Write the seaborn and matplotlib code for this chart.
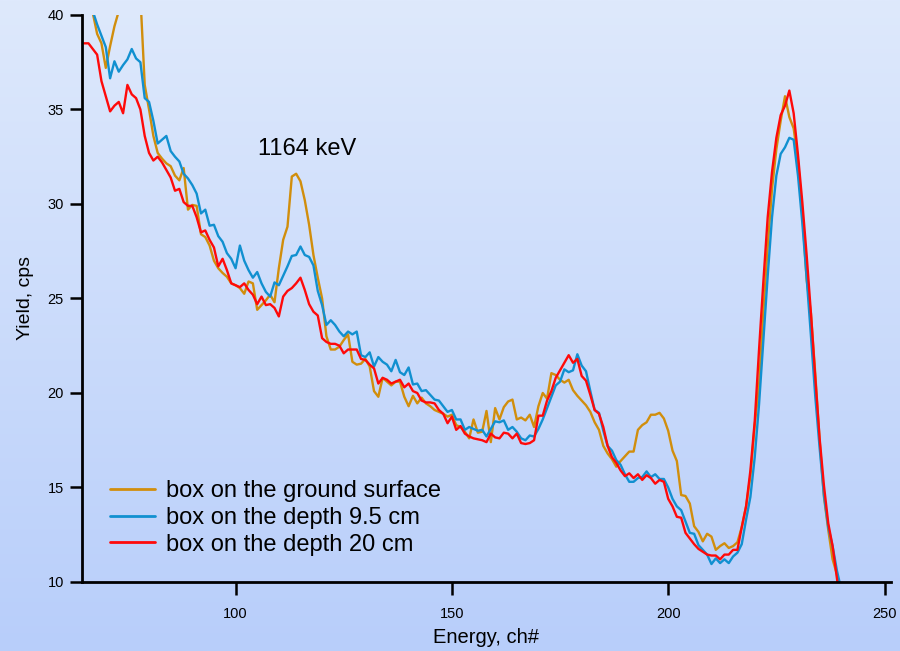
import numpy as np
import pandas as pd
import matplotlib
matplotlib.use("Agg")
import matplotlib.pyplot as plt
import seaborn as sns
from matplotlib.colors import LinearSegmentedColormap

channels = list(range(65, 241))

ground = [42.5, 41.2, 40.1, 39.0, 38.5, 37.2, 38.35, 39.4, 40.2, 41.5,
          42.5, 43.0, 42.5, 41.0, 36.3, 35.0, 33.6, 32.7, 32.4, 32.15,
          32.0, 31.5, 31.25, 31.9, 29.7, 29.95, 29.9, 28.4, 28.25, 27.8,
          27.0, 26.6, 26.35, 26.15, 25.8, 25.7, 25.55, 25.25, 25.9, 25.8,
          24.4, 24.65, 24.9, 25.2, 24.8, 26.6, 28.1, 28.8, 31.45, 31.6,
          31.2, 30.2, 28.9, 27.3, 26.1, 25.0, 23.0, 22.3, 22.3, 22.45,
          22.8, 23.1, 21.65, 21.5, 21.55, 21.8, 21.4, 20.1, 19.8, 20.8,
          20.6, 20.4, 20.6, 20.6, 19.8, 19.3, 19.85, 19.45, 19.75, 19.45,
          19.3, 19.1, 19.0, 18.9, 18.75, 18.85, 18.3, 18.2, 17.95, 17.6,
          18.6, 17.9, 17.95, 19.05, 17.4, 19.2, 18.6, 19.25, 19.55, 19.65,
          18.6, 18.7, 18.55, 18.85, 18.2, 19.3, 20.0, 19.7, 21.05, 20.95,
          20.7, 20.55, 20.7, 20.15, 19.85, 19.6, 19.35, 19.0, 18.45, 18.05,
          17.2, 16.8, 16.5, 16.1, 16.4, 16.65, 16.9, 16.9, 18.05, 18.3,
          18.45, 18.85, 18.85, 18.95, 18.65, 18.0, 16.95, 16.4, 14.6, 14.55,
          14.15, 12.95, 12.65, 12.15, 12.55, 12.4, 11.7, 11.9, 12.05, 11.8,
          11.9, 12.1, 12.9, 14.0, 15.6, 18.3, 20.4, 24.3, 27.75, 30.8,
          32.9, 34.4, 35.7, 34.6, 34.0, 32.3, 29.5, 26.0, 24.2, 21.0,
          17.5, 14.5, 12.75, 11.2, 10.4, 8.5]

depth_9_5 = [42.0, 40.8, 40.2, 39.5, 38.9, 38.3, 36.65, 37.55, 37.0, 37.35,
             37.65, 38.2, 37.7, 37.5, 35.6, 35.4, 34.4, 33.2, 33.4, 33.6,
             32.8, 32.5, 32.25, 31.6, 31.35, 31.0, 30.55, 29.5, 29.7, 28.85,
             28.9, 28.3, 28.0, 27.4, 27.1, 26.6, 27.8, 27.0, 26.5, 26.1,
             26.4, 25.8, 25.35, 25.1, 25.85, 25.7, 26.2, 26.7, 27.25, 27.3,
             27.75, 27.3, 27.2, 26.75, 25.4, 24.65, 23.6, 23.85, 23.6, 23.25,
             23.0, 23.25, 23.1, 23.25, 22.0, 21.9, 22.15, 21.4, 21.9, 21.65,
             21.5, 21.15, 21.75, 21.1, 20.95, 21.35, 20.45, 20.5, 20.1, 20.15,
             19.9, 19.65, 19.6, 19.3, 19.0, 19.1, 18.6, 18.6, 18.05, 18.2,
             18.1, 18.0, 18.05, 17.7, 18.1, 18.5, 18.45, 18.55, 18.05, 18.2,
             17.95, 17.6, 17.5, 17.75, 17.7, 18.1, 18.6, 19.2, 19.8, 20.4,
             20.6, 21.25, 21.1, 21.2, 22.05, 21.45, 21.15, 20.1, 19.1, 18.95,
             18.0, 17.2, 16.95, 16.45, 16.2, 15.7, 15.3, 15.3, 15.5, 15.55,
             15.85, 15.55, 15.7, 15.45, 15.45, 15.0, 14.4, 14.0, 13.8, 13.2,
             12.6, 12.55, 11.95, 11.7, 11.45, 10.95, 11.25, 11.0, 11.2, 11.0,
             11.35, 11.55, 12.0, 13.3, 14.5, 16.6, 19.4, 22.8, 26.2, 29.3,
             31.5, 32.65, 33.0, 33.5, 33.4, 31.5, 29.0, 26.1, 23.0, 19.8,
             17.1, 14.6, 12.9, 11.9, 10.6, 9.6]

depth_20 = [38.5, 38.5, 38.2, 37.9, 36.5, 35.7, 34.9, 35.2, 35.4, 34.8,
            36.3, 35.8, 35.6, 35.0, 33.6, 32.7, 32.3, 32.5, 32.2, 31.8,
            31.4, 30.7, 30.8, 30.1, 29.9, 29.9, 29.3, 28.5, 28.6, 28.1,
            27.7, 26.7, 27.1, 26.5, 25.8, 25.7, 25.6, 25.8, 25.45, 25.2,
            24.7, 25.1, 24.65, 24.7, 24.5, 24.05, 25.1, 25.4, 25.55, 25.8,
            26.1, 25.45, 24.7, 24.3, 24.1, 22.9, 22.7, 22.6, 22.6, 22.5,
            22.1, 22.3, 22.3, 22.3, 21.8, 21.75, 21.5, 21.3, 20.5, 20.8,
            20.7, 20.5, 20.6, 20.7, 20.3, 20.5, 20.1, 20.0, 19.6, 19.5,
            19.5, 19.45, 19.1, 18.9, 18.4, 18.75, 18.05, 18.25, 17.85, 17.7,
            17.6, 17.55, 17.5, 17.4, 17.85, 17.65, 17.6, 17.9, 17.85, 17.6,
            17.85, 17.35, 17.3, 17.35, 17.5, 18.8, 18.8, 19.6, 20.1, 20.8,
            21.2, 21.6, 22.0, 21.6, 21.8, 20.9, 20.65, 19.9, 19.1, 18.9,
            18.2, 17.2, 16.6, 16.3, 15.9, 15.6, 15.75, 15.5, 15.7, 15.4,
            15.65, 15.5, 15.2, 15.4, 15.3, 14.4, 14.0, 13.45, 13.4, 12.6,
            12.3, 12.0, 11.75, 11.6, 11.45, 11.4, 11.4, 11.2, 11.45, 11.45,
            11.7, 11.7, 12.9, 14.0, 15.9, 18.5, 22.3, 25.9, 29.3, 31.7,
            33.5, 34.7, 35.2, 36.0, 34.8, 32.6, 30.1, 27.3, 24.2, 20.8,
            17.6, 15.1, 13.1, 11.9, 10.2, 8.5]

series_names = ["box on the ground surface", "box on the depth 9.5 cm",
                "box on the depth 20 cm"]
series_colors = ["#D18E0C", "#1190D0", "#FF0A0A"]
x_ticks = [100, 150, 200, 250]
y_ticks = [10, 15, 20, 25, 30, 35, 40]
peak_label = "1164 keV"

df = pd.concat([
    pd.DataFrame({"ch": channels, "yield": vals, "series": name})
    for name, vals in zip(series_names, [ground, depth_9_5, depth_20])
], ignore_index=True)

sns.set_theme(style="ticks")
plt.rcParams["font.family"] = ["Liberation Sans", "DejaVu Sans"]
plt.rcParams["text.color"] = "black"
plt.rcParams["axes.labelcolor"] = "black"
plt.rcParams["xtick.color"] = "black"
plt.rcParams["ytick.color"] = "black"

fig = plt.figure(figsize=(9, 6.51), dpi=100)

# gradient background
bg = fig.add_axes([0, 0, 1, 1], zorder=-10)
grad = np.linspace(0, 1, 256).reshape(-1, 1)
cmap = LinearSegmentedColormap.from_list("bg", ["#dee9fc", "#b8cefa"])
bg.imshow(grad, aspect="auto", cmap=cmap, extent=[0, 1, 0, 1], origin="upper")
bg.set_axis_off()

ax = fig.add_axes([0.0911, 0.106, 0.8989, 0.871])
ax.patch.set_alpha(0)

sns.lineplot(data=df, x="ch", y="yield", hue="series", hue_order=series_names,
             palette=series_colors, linewidth=1.7, ax=ax, estimator=None,
             sort=False)

ax.set_xlim(64.5, 251.5)
ax.set_ylim(10, 40)
ax.set_xticks(x_ticks)
ax.set_yticks(y_ticks)
ax.tick_params(axis="both", direction="out", length=9, width=1.8,
               labelsize=10.5, color="black", labelcolor="black")
ax.tick_params(axis="x", pad=9)
ax.tick_params(axis="y", pad=4)
for side in ["top", "right"]:
    ax.spines[side].set_visible(False)
for side in ["left", "bottom"]:
    ax.spines[side].set_linewidth(2)
    ax.spines[side].set_color("black")

ax.set_xlabel("Energy, ch#", fontsize=14.5, labelpad=5)
ax.set_ylabel("Yield, cps", fontsize=14, labelpad=10)

ax.text(116.6, 32.9, peak_label, fontsize=17, ha="center", va="center")

sns.move_legend(ax, loc="upper left", bbox_to_anchor=(0.023, 0.196), title=None,
                frameon=False, fontsize=17, handlelength=1.9,
                labelspacing=0.2, handletextpad=0.45, borderaxespad=0)
for line in ax.get_legend().get_lines():
    line.set_linewidth(2.0)

fig.savefig("out.png", dpi=100)
